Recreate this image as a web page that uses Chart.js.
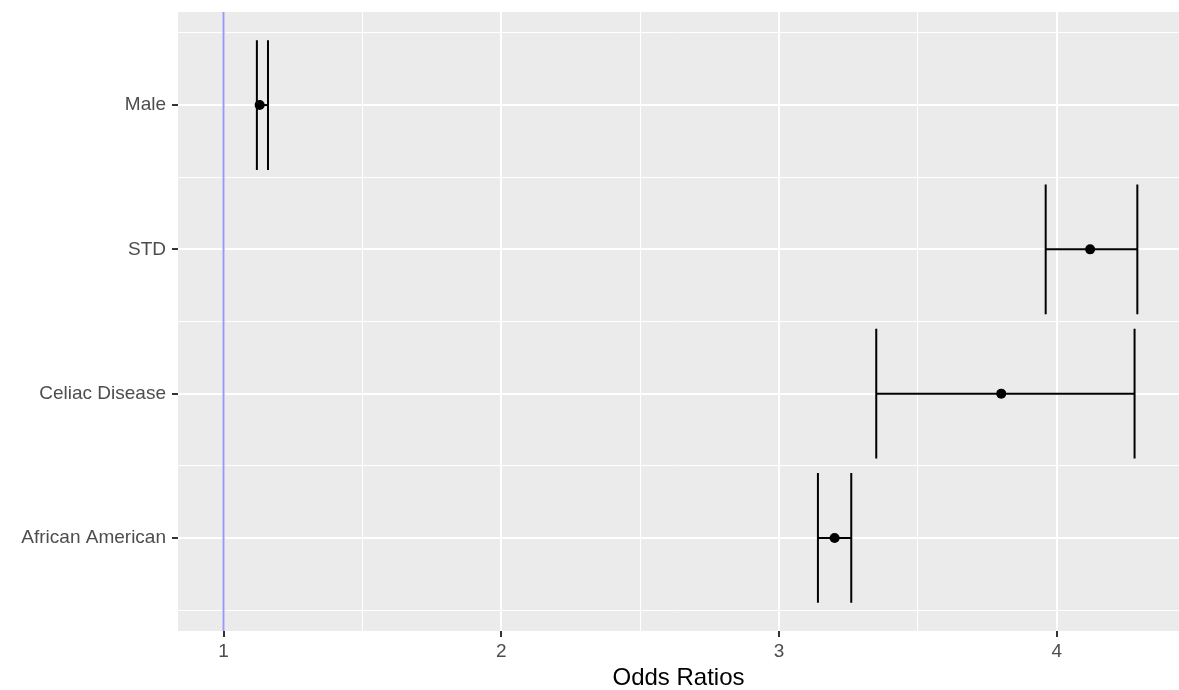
<!DOCTYPE html>
<html>
<head>
<meta charset="utf-8">
<title>Odds Ratios</title>
<script src="https://cdn.jsdelivr.net/npm/chart.js@4/dist/chart.umd.min.js"></script>
<style>
  body { margin: 0; background: #fff; }
  #wrap { width: 1179px; height: 690px; }
</style>
</head>
<body>
<div id="wrap"><canvas id="orChart" width="1179" height="690"></canvas></div>
<script>
// categories top to bottom
const categories = ['Male', 'STD', 'Celiac Disease', 'African American'];
const oddsRatios = [1.13, 4.12, 3.80, 3.20];
const lowerCI = [1.12, 3.96, 3.35, 3.14];
const upperCI = [1.16, 4.29, 4.28, 3.26];
const refLine = 1;
const xTicks = [1, 1.5, 2, 2.5, 3, 3.5, 4];
const yTicks = [0.5, 1, 1.5, 2, 2.5, 3, 3.5, 4, 4.5];

const whisker = 0.45;     // half of errorbar width (0.9)
const yMin = 0.355, yMax = 4.645;
const xMin = 0.836, xMax = 4.44;

const FONT = '"Liberation Sans", Arial, Helvetica, sans-serif';
const isMajor = v => Number.isInteger(v);

const datasets = [];

// points on top
datasets.push({
    data: categories.map((c, i) => ({ x: oddsRatios[i], y: i + 1 })),
    pointRadius: 5,
    pointBackgroundColor: '#000',
    pointBorderWidth: 0,
    showLine: false
});

const lineStyle = { showLine: true, pointRadius: 0, borderColor: '#000', borderWidth: 2, fill: false };

categories.forEach((c, i) => {
    const y = i + 1;
    datasets.push(Object.assign({ data: [{ x: lowerCI[i], y: y }, { x: upperCI[i], y: y }] }, lineStyle));
    datasets.push(Object.assign({ data: [{ x: lowerCI[i], y: y - whisker }, { x: lowerCI[i], y: y + whisker }] }, lineStyle));
    datasets.push(Object.assign({ data: [{ x: upperCI[i], y: y - whisker }, { x: upperCI[i], y: y + whisker }] }, lineStyle));
});

// reference line
datasets.push({
    data: [{ x: refLine, y: yMin }, { x: refLine, y: yMax }],
    showLine: true,
    pointRadius: 0,
    borderColor: '#9a9af5',
    borderWidth: 2
});

const panelBg = {
    id: 'panelBg',
    beforeDraw(chart) {
        const a = chart.chartArea;
        const ctx = chart.ctx;
        ctx.save();
        ctx.fillStyle = '#ebebeb';
        ctx.fillRect(a.left, a.top, a.right - a.left, a.bottom - a.top);
        ctx.restore();
    }
};

const noPad = s => { s.paddingTop = 0; s.paddingBottom = 0; s.paddingLeft = 0; s.paddingRight = 0; };

new Chart(document.getElementById('orChart'), {
    type: 'scatter',
    data: { datasets },
    plugins: [panelBg],
    options: {
        responsive: false,
        animation: false,
        layout: { autoPadding: false, padding: { top: 12, right: 0, left: 0, bottom: 0 } },
        plugins: { legend: { display: false }, tooltip: { enabled: false } },
        scales: {
            x: {
                type: 'linear',
                min: xMin,
                max: xMax,
                afterBuildTicks: s => { s.ticks = xTicks.map(v => ({ value: v })); },
                afterFit: s => { s.height = 59; noPad(s); },
                border: { display: false },
                grid: {
                    color: '#ffffff',
                    lineWidth: ctx => isMajor(ctx.tick.value) ? 2 : 1,
                    tickLength: 6,
                    tickWidth: 2,
                    tickColor: ctx => isMajor(ctx.tick.value) ? '#333333' : 'rgba(0,0,0,0)'
                },
                ticks: {
                    autoSkip: false,
                    maxRotation: 0,
                    padding: 3,
                    color: '#4d4d4d',
                    font: { family: FONT, size: 19 },
                    callback: v => isMajor(v) ? String(v) : ''
                },
                title: {
                    display: true,
                    text: 'Odds Ratios',
                    color: '#000',
                    font: { family: FONT, size: 24, lineHeight: 1 },
                    padding: { top: 0, bottom: 0 }
                }
            },
            y: {
                type: 'linear',
                reverse: true,
                min: yMin,
                max: yMax,
                afterBuildTicks: s => { s.ticks = yTicks.map(v => ({ value: v })); },
                afterFit: s => { s.width = 178; noPad(s); },
                border: { display: false },
                grid: {
                    color: '#ffffff',
                    lineWidth: ctx => isMajor(ctx.tick.value) ? 2 : 1,
                    tickLength: 6,
                    tickWidth: 2,
                    tickColor: ctx => isMajor(ctx.tick.value) ? '#333333' : 'rgba(0,0,0,0)'
                },
                ticks: {
                    autoSkip: false,
                    padding: 6,
                    color: '#4d4d4d',
                    font: { family: FONT, size: 19 },
                    callback: v => isMajor(v) ? categories[v - 1] : ''
                }
            }
        }
    }
});
</script>
</body>
</html>
